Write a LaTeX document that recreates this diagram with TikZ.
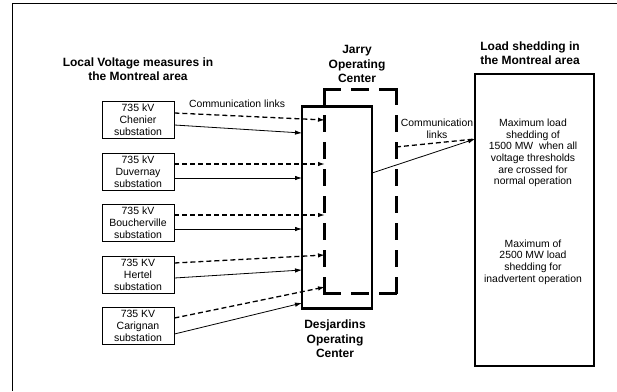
\documentclass[tikz,border=0pt]{standalone}
\usepackage{fontspec}
\setmainfont{Liberation Sans}
\usetikzlibrary{arrows.meta}
\begin{document}
\begin{tikzpicture}[x=1pt,y=-1pt,
  sub/.style={draw,line width=0.9pt,minimum width=72pt,minimum height=37pt,inner sep=0pt,align=center,font=\fontsize{10.5}{12}\selectfont},
  title/.style={align=center,font=\fontsize{12}{14.5}\selectfont\bfseries,inner sep=0pt},
  small/.style={align=center,font=\fontsize{10.4}{11.7}\selectfont,inner sep=0pt},
  dlink/.style={line width=1.3pt,dash pattern=on 5pt off 3pt,-{Latex[length=7pt,width=4.5pt]}},
  slink/.style={line width=0.8pt,-{Latex[length=7pt,width=4.5pt]}},
  jside/.style={line width=3pt,line cap=butt}
]
\useasboundingbox (0,0) rectangle (617,391);
% frame
\draw[line width=1pt] (12,391) -- (12,3) -- (617,3);

% titles
\node[title] (tleft) at (138,69) {Local Voltage measures in\\the Montreal area};
\node[title] (tjarry) at (357,64) {Jarry\\Operating\\Center};
\node[title] (tload) at (530,53) {Load shedding in\\the Montreal area};
\node[title] (tdesj) at (335,339) {Desjardins\\Operating\\Center};

% substations
\node[sub] (s1) at (138,120) {735 kV\\Chenier\\substation};
\node[sub] (s2) at (138,171.5) {735 kV\\Duvernay\\substation};
\node[sub] (s3) at (138,222.5) {735 kV\\Boucherville\\substation};
\node[sub] (s4) at (138,274.5) {735 KV\\Hertel\\substation};
\node[sub] (s5) at (138,325.5) {735 KV\\Carignan\\substation};

% Desjardins box
\node[draw,line width=2.3pt,minimum width=70pt,minimum height=202pt,inner sep=0pt] (desj) at (337,207.5) {};

% Jarry dashed box
\node[minimum width=71pt,minimum height=203pt,inner sep=0pt] (jarry) at (360.5,191.5) {};
\draw[jside,dash pattern=on 18pt off 10pt] ([xshift=-1.5pt]jarry.north west) -- ([xshift=1.5pt]jarry.north east);
\draw[jside,dash pattern=on 18pt off 10pt] ([xshift=-1.5pt]jarry.south west) -- ([xshift=1.5pt]jarry.south east);
\draw[jside,dash pattern=on 17pt off 10pt] ([yshift=1.5pt]jarry.north west) -- ([yshift=-1.5pt]jarry.south west);
\draw[jside,dash pattern=on 17pt off 10pt] ([yshift=1.5pt]jarry.north east) -- ([yshift=-1.5pt]jarry.south east);

% Load shedding box
\node[draw,line width=1.7pt,minimum width=119pt,minimum height=292pt,inner sep=0pt] (load) at (534.5,220) {};
\node[small] (l1) at (533,153) {Maximum load\\shedding of\\1500 MW\ \ when all\\voltage thresholds\\are crossed for\\normal operation};
\node[small] (l2) at (533,262) {Maximum of\\2500 MW load\\shedding for\\inadvertent operation};

% labels
\node[small] (c1) at (237,104) {Communication links};
\node[small] (c2) at (437,128.5) {Communication\\links};

% endpoints
\coordinate (a1) at (325,120);   \coordinate (b1) at (302,133);
\coordinate (a2) at (325,164);   \coordinate (b2) at (302,178);
\coordinate (a3) at (325,215);   \coordinate (b3) at (302,229);
\coordinate (a4) at (325,255);   \coordinate (b4) at (302,270);
\coordinate (a5) at (325,287);   \coordinate (b5) at (302,303);

\draw[dlink] ([yshift=7pt]s1.east) -- (a1);
\draw[slink] ([yshift=-5pt]s1.east) -- (b1);
\draw[dlink] ([yshift=7.5pt]s2.east) -- (a2);
\draw[slink] ([yshift=-6.5pt]s2.east) -- (b2);
\draw[dlink] ([yshift=7.5pt]s3.east) -- (a3);
\draw[slink] ([yshift=-6.5pt]s3.east) -- (b3);
\draw[dlink] ([yshift=11.5pt]s4.east) -- (a4);
\draw[slink] ([yshift=-3.5pt]s4.east) -- (b4);
\draw[dlink] ([yshift=7.5pt]s5.east) -- (a5);
\draw[slink] ([yshift=-8.5pt]s5.east) -- (b5);

% right links
\coordinate (dout) at (372,173);
\coordinate (jout) at (396,147);
\coordinate (lin) at (475,139);
\draw[slink] (dout) -- (lin);
\draw[line width=1.3pt,dash pattern=on 5pt off 3pt] (jout) -- (lin);
\end{tikzpicture}
\end{document}
